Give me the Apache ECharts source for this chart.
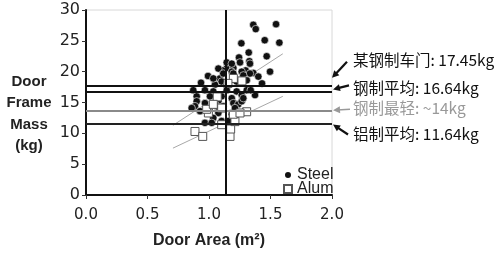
<!DOCTYPE html>
<html><head><meta charset="utf-8">
<script src="https://cdn.jsdelivr.net/npm/echarts@6/dist/echarts.min.js"></script>
<style>html,body{margin:0;padding:0;background:#fff}#c{width:501px;height:254px}</style>
</head><body><div id="c"></div>
<script>
// ---- data ----
const steelArea = [1.36,1.38,1.545,1.263,1.453,1.572,1.244,1.323,1.469,1.252,1.328,1.496,1.144,1.198,1.111,1.298,1.36,0.935,0.992,1.089,1.431,
  1.144,1.333,1.076,1.185,1.266,1.333,1.116,1.198,1.279,1.401,1.049,1.103,1.144,1.225,1.307,0.872,0.967,1.035,1.144,1.225,1.307,
  0.900,1.008,1.103,1.185,1.266,1.374,0.900,1.076,1.198,0.886,1.116,1.238,0.927,1.076,1.185,1.035,1.103,0.967,1.022,1.157,
  0.859,0.967,1.266,1.063,1.211,1.339,1.185,1.279,1.049,1.035];
const steelMass = [27.6,26.9,27.7,24.6,25.1,24.7,22.3,23.1,22.5,21.5,21.7,20.0,20.6,20.6,20.2,20.2,19.8,18.2,19.3,18.9,18.1,
  21.5,21.3,20.5,20.0,20.0,19.7,19.7,19.7,19.4,19.2,17.9,18.4,17.8,18.4,18.6,17.0,17.0,16.8,17.0,16.8,17.0,
  16.0,16.0,16.0,15.7,16.2,16.2,15.2,15.2,14.9,14.4,14.4,14.7,13.6,13.3,13.1,12.5,12.0,11.7,11.7,12.0,
  14.1,14.9,15.2,14.4,14.1,17.0,21.3,15.7,14.7,18.9];
const alumArea = [0.886,0.949,1.171,1.176,1.103,1.211,1.198,1.306,1.252,0.995,1.067,0.981,1.103,1.198,1.268,1.154,1.035];
const alumMass = [10.3,9.5,9.5,10.7,11.4,11.9,13.1,13.5,13.3,13.3,15.9,13.9,14.1,18.9,18.5,18.1,14.7];
const steelFitArea = [0.707, 1.60];
const steelFitMass = [11.3, 22.9];
const alumFitArea = [0.707, 1.60];
const alumFitMass = [7.6, 16.0];
const refLabels = ['某钢制车门: 17.45kg', '钢制平均: 16.64kg', '钢制最轻: ~14kg', '铝制平均: 11.64kg'];
const refMass = [17.7, 16.8, 13.6, 11.6];
const refDoorArea = 1.135;
const seriesNames = ['Steel', 'Alum'];
const xTitle = 'Door Area (m²)';
const yTitle = 'Door\nFrame\nMass\n(kg)';

// ---- chart ----
const zip = (a, b) => a.map((v, i) => [v, b[i]]);
const chart = echarts.init(document.getElementById('c'), null, {renderer: 'canvas'});
const tickFont = 'DejaVu Sans';
const titleFont = 'Liberation Sans';
const refColors = ['#111', '#111', '#8a8a8a', '#222'];

chart.setOption({
  animation: false,
  backgroundColor: '#fff',
  grid: {left: 86, right: 169, top: 10, bottom: 55, show: true, borderColor: '#d8d8d8', borderWidth: 1, containLabel: false},
  legend: {
    data: [{name: seriesNames[0], icon: 'circle'}, {name: seriesNames[1], icon: 'rect'}],
    orient: 'vertical', left: 283, top: 167, padding: 0, itemGap: -2,
    itemWidth: 8, itemHeight: 8,
    textStyle: {fontFamily: titleFont, fontSize: 16, color: '#222', padding: [0, 0, 0, 0]}
  },
  xAxis: {
    type: 'value', min: 0, max: 2, interval: 0.5,
    axisLine: {lineStyle: {color: '#111', width: 2}},
    axisTick: {show: true, length: 4, lineStyle: {color: '#333'}},
    axisLabel: {fontFamily: tickFont, fontSize: 15, color: '#222', margin: 13, formatter: v => v.toFixed(1)},
    splitLine: {show: false},
    name: xTitle, nameLocation: 'middle', nameGap: 38,
    nameTextStyle: {fontFamily: titleFont, fontSize: 16, fontWeight: 'bold', color: '#222'}
  },
  yAxis: {
    type: 'value', min: 0, max: 30, interval: 5,
    axisLine: {lineStyle: {color: '#111', width: 2}},
    axisTick: {show: true, length: 4, lineStyle: {color: '#333'}},
    axisLabel: {fontFamily: tickFont, fontSize: 16, color: '#222', margin: 6},
    splitLine: {show: false}
  },
  series: [
    {name: 'steelFit', type: 'line', data: zip(steelFitArea, steelFitMass), symbol: 'none', silent: true,
     lineStyle: {color: '#a8a8a8', width: 1}, z: 1},
    {name: 'alumFit', type: 'line', data: zip(alumFitArea, alumFitMass), symbol: 'none', silent: true,
     lineStyle: {color: '#a8a8a8', width: 1}, z: 1},
    {name: seriesNames[0], type: 'scatter', data: zip(steelArea, steelMass), symbol: 'circle', symbolSize: 7.5,
     itemStyle: {color: '#111', borderColor: '#fff', borderWidth: 0.6, opacity: 1}, z: 2},
    {name: seriesNames[1], type: 'scatter', data: zip(alumArea, alumMass), symbol: 'rect', symbolSize: 8,
     itemStyle: {color: '#fff', borderColor: '#555', borderWidth: 1, opacity: 1}, z: 3},
    {name: 'refs', type: 'line', data: [], silent: true, z: 5,
     markLine: {silent: true, symbol: ['none', 'none'], label: {show: false}, animation: false,
       data: refMass.map((v, i) => ({yAxis: v, lineStyle: {color: refColors[i], width: 2, type: 'solid'}}))
         .concat([{xAxis: refDoorArea, lineStyle: {color: '#111', width: 2, type: 'solid'}}])}}
  ]
});

// annotations (arrows + labels) placed relative to each reference line's right end
const anno = [
  {tail: [15, -24], tip: [0, -8], text: [21, -26]},
  {tail: [17, -6], tip: [1, -2], text: [21, -3]},
  {tail: [18, -2], tip: [1, -1], text: [21, -3]},
  {tail: [16, 11], tip: [1, 1], text: [21, 11]}
];
const g = [];
refMass.forEach((v, i) => {
  const p = chart.convertToPixel({gridIndex: 0}, [2, v]);
  const a = anno[i];
  const col = i === 2 ? '#999' : '#111';
  const tx = p[0] + a.tail[0], ty = p[1] + a.tail[1];
  const hx = p[0] + a.tip[0], hy = p[1] + a.tip[1];
  const dx = hx - tx, dy = hy - ty, len = Math.hypot(dx, dy);
  const ux = dx / len, uy = dy / len, nx = -uy, ny = ux;
  const hl = 7, hw = 3.5;
  g.push({type: 'line', silent: true, shape: {x1: tx, y1: ty, x2: hx - ux * hl * 0.6, y2: hy - uy * hl * 0.6},
    style: {stroke: col, lineWidth: i === 2 ? 1.5 : 2.2}});
  g.push({type: 'polygon', silent: true, shape: {points: [[hx, hy],
    [hx - ux * hl + nx * hw, hy - uy * hl + ny * hw], [hx - ux * hl - nx * hw, hy - uy * hl - ny * hw]]},
    style: {fill: col}});
  g.push({type: 'text', silent: true, x: p[0] + a.text[0], y: p[1] + a.text[1],
    style: {text: refLabels[i], fill: i === 2 ? '#999' : '#111', font: '15.5px "Noto Sans CJK SC", "Liberation Sans"',
      textAlign: 'left', textVerticalAlign: 'middle'}});
});
g.push({type: 'text', silent: true, x: 29, y: 114,
  style: {text: yTitle, fill: '#222', font: 'bold 15px "Liberation Sans"', lineHeight: 21.5,
    textAlign: 'center', textVerticalAlign: 'middle', align: 'center', verticalAlign: 'middle'}});
chart.setOption({graphic: {elements: g}});
</script>
</body></html>
